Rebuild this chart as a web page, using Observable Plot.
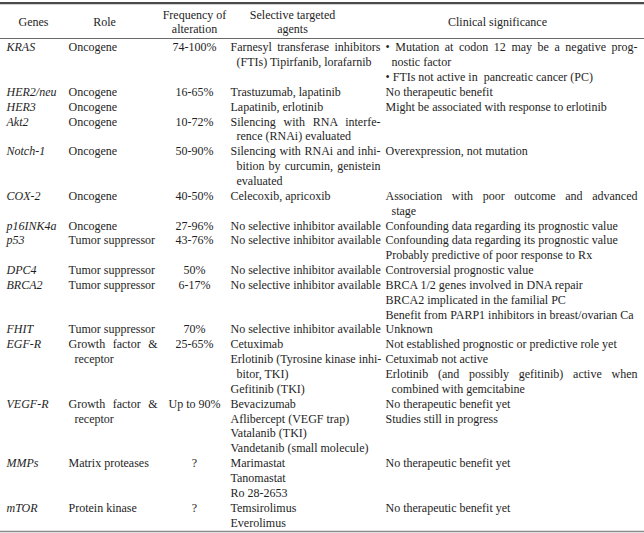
<!DOCTYPE html>
<html><head><meta charset="utf-8">
<script src="https://cdn.jsdelivr.net/npm/d3@7"></script>
<script src="https://cdn.jsdelivr.net/npm/@observablehq/plot@0.6"></script>
<style>
html,body{margin:0;padding:0;background:#fff;}
#chart svg{display:block;}
</style></head><body><div id="chart"></div>
<script>
// ---------------- DATA ----------------
const headers = [["Genes"], ["Role"], ["Frequency of", "alteration"], ["Selective targeted", "agents"], ["Clinical significance"]];
const genes = ["KRAS", "HER2/neu", "HER3", "Akt2", "Notch-1", "COX-2", "p16INK4a", "p53", "DPC4", "BRCA2", "FHIT", "EGF-R", "VEGF-R", "MMPs", "mTOR"];
const roles = [["Oncogene"], ["Oncogene"], ["Oncogene"], ["Oncogene"], ["Oncogene"], ["Oncogene"], ["Oncogene"],
  ["Tumor suppressor"], ["Tumor suppressor"], ["Tumor suppressor"], ["Tumor suppressor"],
  ["Growth factor &", "receptor"], ["Growth factor &", "receptor"], ["Matrix proteases"], ["Protein kinase"]];
const frequencies = ["74-100%", "16-65%", "", "10-72%", "50-90%", "40-50%", "27-96%", "43-76%", "50%", "6-17%", "70%", "25-65%", "Up to 90%", "?", "?"];
const agents = [
  [["Farnesyl transferase inhibitors", "(FTIs) Tipirfanib, lorafarnib"]],
  [["Trastuzumab, lapatinib"]],
  [["Lapatinib, erlotinib"]],
  [["Silencing with RNA interfe-", "rence (RNAi) evaluated"]],
  [["Silencing with RNAi and inhi-", "bition by curcumin, genistein", "evaluated"]],
  [["Celecoxib, apricoxib"]],
  [["No selective inhibitor available"]],
  [["No selective inhibitor available"]],
  [["No selective inhibitor available"]],
  [["No selective inhibitor available"]],
  [["No selective inhibitor available"]],
  [["Cetuximab"], ["Erlotinib (Tyrosine kinase inhi-", "bitor, TKI)"], ["Gefitinib (TKI)"]],
  [["Bevacizumab"], ["Aflibercept (VEGF trap)"], ["Vatalanib (TKI)"], ["Vandetanib (small molecule)"]],
  [["Marimastat"], ["Tanomastat"], ["Ro 28-2653"]],
  [["Temsirolimus"], ["Everolimus"]]
];
const significance = [
  [["• Mutation at codon 12 may be a negative prog-", "nostic factor"], ["• FTIs not active in\u00a0 pancreatic cancer (PC)"]],
  [["No therapeutic benefit"]],
  [["Might be associated with response to erlotinib"]],
  [],
  [["Overexpression, not mutation"]],
  [["Association with poor outcome and advanced", "stage"]],
  [["Confounding data regarding its prognostic value"]],
  [["Confounding data regarding its prognostic value"], ["Probably predictive of poor response to Rx"]],
  [["Controversial prognostic value"]],
  [["BRCA 1/2 genes involved in DNA repair"], ["BRCA2 implicated in the familial PC"], ["Benefit from PARP1 inhibitors in breast/ovarian Ca"]],
  [["Unknown"]],
  [["Not established prognostic or predictive role yet"], ["Cetuximab not active"], ["Erlotinib (and possibly gefitinib) active when", "combined with gemcitabine"]],
  [["No therapeutic benefit yet"], ["Studies still in progress"]],
  [["No therapeutic benefit yet"]],
  [["No therapeutic benefit yet"]]
];

// ---------------- LAYOUT ----------------
const W = 644, H = 533;
const firstLinePx = 47, pitch = 14.85;
const colLeft = {genes: 6, role: 68, freq: 194, agents: 230, clin: 385};
const colRight = {role: 157, agents: 380, clin: 637};
const headCenter = [33, 104, 194, 292, 497];
const indent = 6;
const toLine = px => (px - firstLinePx) / pitch;

// build line records
const plain = [], justified = [], centered = [], italic = [];
let line = 0;
genes.forEach((g, r) => {
  const roleItems = [roles[r]];
  const h = Math.max(1, roles[r].length,
    d3.sum(agents[r], it => it.length), d3.sum(significance[r], it => it.length));
  italic.push({x: colLeft.genes, line, text: g});
  if (frequencies[r]) centered.push({x: colLeft.freq, line, text: frequencies[r]});
  const place = (items, key) => {
    let l = line;
    items.forEach(item => item.forEach((t, j) => {
      const x = colLeft[key] + (j > 0 ? indent : 0);
      const rec = {x, line: l, text: t, target: colRight[key] - x};
      if (j < item.length - 1 && t.includes(" ")) justified.push(rec); else plain.push(rec);
      l++;
    }));
  };
  place(roleItems, "role");
  place(agents[r], "agents");
  place(significance[r], "clin");
  line += h;
});
const headerRecs = [];
headers.forEach((hd, i) => {
  const ys = hd.length === 1 ? [22] : [15, 29];
  hd.forEach((t, j) => headerRecs.push({x: headCenter[i], line: toLine(ys[j]), text: t}));
});

const font = "'Liberation Serif', 'Times New Roman', serif";
const fs = 12;
const ink = "#1e1e1e";

const chart = Plot.plot({
  width: W, height: H,
  marginTop: 0, marginRight: 0, marginBottom: 0, marginLeft: 0,
  style: {fontFamily: font, fontSize: fs + "px", background: "#fff", color: ink},
  x: {domain: [0, W], range: [0, W], axis: null},
  y: {domain: [toLine(0), toLine(H)], range: [0, H], axis: null},
  marks: [
    Plot.ruleY([toLine(2.6)], {stroke: "#4a4a4a", strokeWidth: 2.2}),
    Plot.ruleY([toLine(38)], {stroke: "#6a6a6a", strokeWidth: 1}),
    Plot.ruleY([toLine(531)], {stroke: "#8a8a8a", strokeWidth: 1.6}),
    Plot.text(headerRecs, {x: "x", y: "line", text: "text", textAnchor: "middle", fill: ink, fontSize: fs, fontFamily: font}),
    Plot.text(italic, {x: "x", y: "line", text: "text", textAnchor: "start", fill: ink, fontSize: fs, fontFamily: font, fontStyle: "italic"}),
    Plot.text(centered, {x: "x", y: "line", text: "text", textAnchor: "middle", fill: ink, fontSize: fs, fontFamily: font}),
    Plot.text(plain, {x: "x", y: "line", text: "text", textAnchor: "start", fill: ink, fontSize: fs, fontFamily: font}),
    Plot.text(justified, {x: "x", y: "line", text: "text", textAnchor: "start", fill: ink, fontSize: fs, fontFamily: font, ariaDescription: "justified"})
  ]
});
document.getElementById("chart").appendChild(chart);

// justify wrapped lines by spreading the word gaps
const jt = chart.querySelectorAll('g[aria-description="justified"] text');
jt.forEach((el, i) => {
  const rec = justified[i];
  if (!rec) return;
  const natural = el.getComputedTextLength();
  const gaps = (rec.text.match(/ /g) || []).length;
  if (gaps > 0) el.style.wordSpacing = Math.max(0, (rec.target - natural) / gaps) + "px";
});
</script>
</body></html>
